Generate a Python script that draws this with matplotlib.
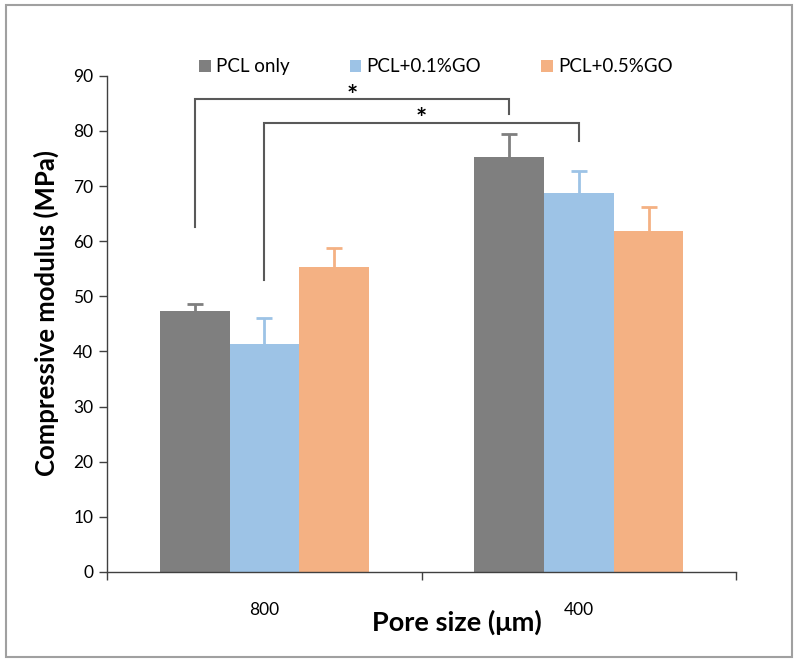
import numpy as np
import matplotlib.pyplot as plt
from matplotlib.patches import Rectangle

plt.rcParams['font.family'] = ['Lato', 'DejaVu Sans']

# 数据
pore_sizes = ['800', '400']
groups = ['PCL only', 'PCL+0.1%GO', 'PCL+0.5%GO']
means = {
    'PCL only': [47.3, 75.2],
    'PCL+0.1%GO': [41.3, 68.8],
    'PCL+0.5%GO': [55.3, 61.9],
}
errors = {
    'PCL only': [1.3, 4.3],
    'PCL+0.1%GO': [4.8, 3.9],
    'PCL+0.5%GO': [3.5, 4.3],
}
colors = ['#7F7F7F', '#9DC3E6', '#F4B183']

# 显著性标记: (组序号, 顶部高度, 左端底, 右端底)
brackets = [
    (0, 85.8, 62.6, 83.1),
    (1, 81.5, 53.0, 78.2),
]

fig = plt.figure(figsize=(8, 6.65), dpi=100)
ax = fig.add_axes([0.134, 0.14, 0.786, 0.746])

x = np.arange(len(pore_sizes))
w = 0.222
handles = []
for i, g in enumerate(groups):
    pos = x + (i - 1) * w
    m = np.array(means[g])
    top = m + np.array(errors[g])
    b = ax.bar(pos, m, width=w, color=colors[i], zorder=2, label=g)
    handles.append(b)
    # 只画上半误差线
    ax.vlines(pos, m, top, color=colors[i], lw=2, zorder=3)
    ax.plot(pos, top, ls='none', marker='_', markersize=11, mew=2,
            color=colors[i], zorder=3)

# 括号
for gi, top, lb, rb in brackets:
    xl = x[0] + (gi - 1) * w
    xr = x[1] + (gi - 1) * w
    ax.plot([xl, xl, xr, xr], [lb, top, top, rb], color='#595959', lw=1.5,
            solid_joinstyle='miter', zorder=4, clip_on=False)
    ax.text((xl + xr) / 2, top + 0.6, '*', ha='center', va='center',
            fontsize=19, fontweight='bold', color='black')

ax.set_xlim(-0.5, 1.5)
ax.set_ylim(0, 90)
ax.set_yticks(np.arange(0, 91, 10))
ax.set_xticks(x)
ax.set_xticklabels(pore_sizes)
ax.set_xticks([-0.5, 0.5, 1.5], minor=True)
ax.tick_params(axis='x', which='major', length=0, pad=22, labelsize=12.5)
ax.tick_params(axis='x', which='minor', length=6, width=1, color='#404040', direction='out')
ax.tick_params(axis='y', length=6, width=1, color='#404040', labelsize=12.5, pad=4)
for s in ['top', 'right']:
    ax.spines[s].set_visible(False)
for s in ['left', 'bottom']:
    ax.spines[s].set_color('#404040')
    ax.spines[s].set_linewidth(1)

ax.set_xlabel('Pore size (μm)', fontsize=19.5, fontweight='bold')
ax.set_ylabel('Compressive modulus (MPa)', fontsize=18.5, fontweight='bold')
ax.xaxis.set_label_coords(0.556, -0.077)
ax.yaxis.set_label_coords(-0.077, 0.522)

leg = ax.legend(handles, groups, loc='center', bbox_to_anchor=(0.523, 1.018), ncol=3,
                frameon=False, fontsize=13.5, handlelength=0.6, handleheight=0.6,
                handletextpad=0.3, columnspacing=3.2)

# 外框
fig.patches.append(Rectangle((0.008, 0.012), 0.982, 0.98, transform=fig.transFigure,
                             fill=False, edgecolor='#A0A0A0', lw=1.5))

fig.savefig('out.png', dpi=100)
